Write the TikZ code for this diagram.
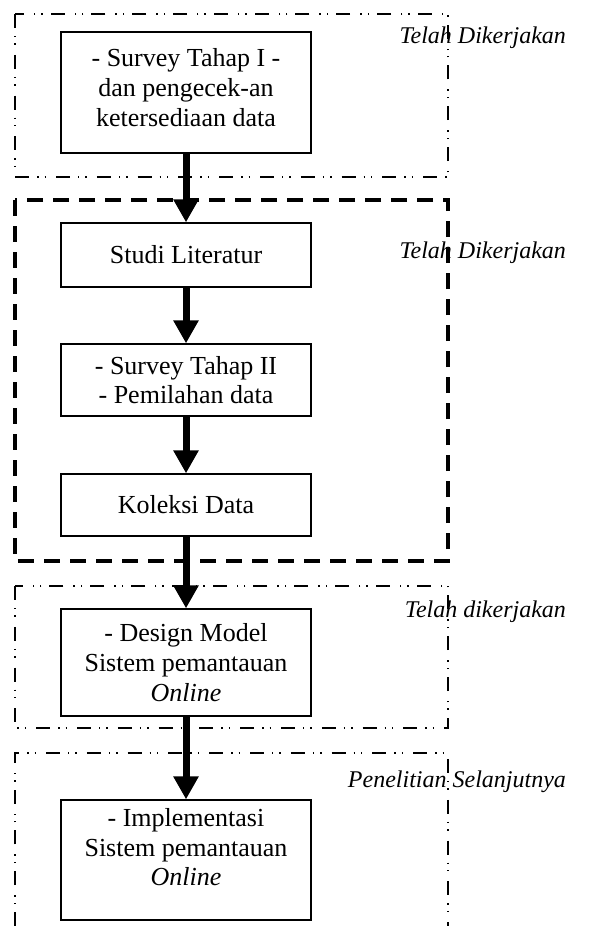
\documentclass[tikz,border=0pt]{standalone}
\usepackage{fontspec}
\setmainfont{Liberation Serif}
\usetikzlibrary{arrows.meta}

\begin{document}
\begin{tikzpicture}[x=0.5pt,y=-0.5pt,
    tahap/.style={draw,line width=0.65pt,minimum width=125pt,inner sep=0pt,
      align=center,font=\fontsize{13}{14.8}\selectfont},
    panah/.style={line width=3.5pt,-{Triangle[width=12pt,length=11.5pt]}},
    kelompok/.style={line width=0.7pt,
      dash pattern=on 7pt off 4pt on 0.7pt off 3pt on 0.7pt off 5pt},
    ket/.style={anchor=east,font=\fontsize{12}{14.4}\selectfont\itshape}]
  \useasboundingbox (0,0) rectangle (591,926);
  % kelompok pekerjaan
  \draw[kelompok] (15,14) rectangle (448,177);
  \draw[line width=2pt,dash pattern=on 8pt off 5pt] (15,200) rectangle (448,561);
  \draw[kelompok] (15,586) rectangle (448,728);
  \draw[kelompok] (15,926) -- (15,753) -- (448,753) -- (448,926);
  % keterangan
  \node[ket] (ket1) at (573,38) {Telah Dikerjakan};
  \node[ket] (ket2) at (573,253) {Telah Dikerjakan};
  \node[ket] (ket3) at (573,612) {Telah dikerjakan};
  \node[ket] (ket4) at (573,782) {Penelitian Selanjutnya};
  % tahapan
  \node[tahap,minimum height=60.5pt] (survey1) at (186,92.5)
    {- Survey Tahap I -\\dan pengecek-an\\ketersediaan data\\[-9.8pt]\mbox{}};
  \node[tahap,minimum height=32pt] (studi) at (186,255) {Studi Literatur};
  \node[tahap,minimum height=36pt] (survey2) at (186,380)
    {- Survey Tahap II\\- Pemilahan data};
  \node[tahap,minimum height=31pt] (koleksi) at (186,505) {Koleksi Data};
  \node[tahap,minimum height=53.5pt] (design) at (186,662.5)
    {- Design Model\\Sistem pemantauan\\\textit{Online}};
  \node[tahap,minimum height=60pt] (implementasi) at (186,860)
    {- Implementasi\\Sistem pemantauan\\\textit{Online}\\[-1.8pt]\mbox{}};
  % alur
  \draw[panah] (survey1.south) -- (studi.north);
  \draw[panah] (studi.south) -- (survey2.north);
  \draw[panah] (survey2.south) -- (koleksi.north);
  \draw[panah] (koleksi.south) -- (design.north);
  \draw[panah] (design.south) -- (implementasi.north);
\end{tikzpicture}
\end{document}
